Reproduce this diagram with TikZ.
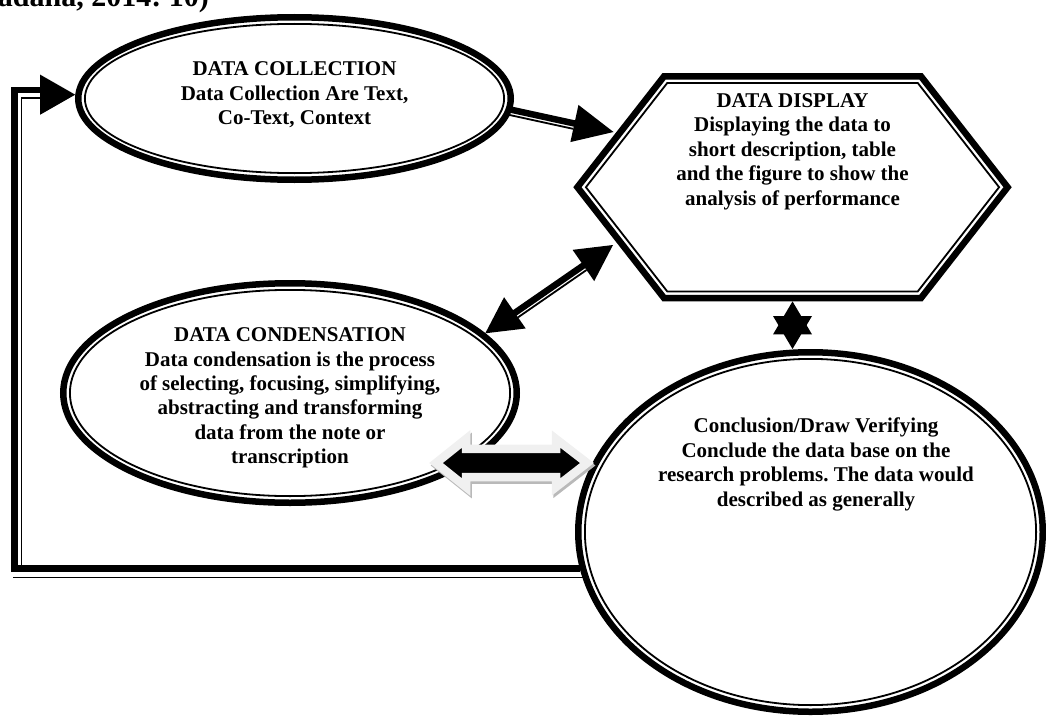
\documentclass[tikz,border=0pt]{standalone}
\usepackage{fontspec}
\setmainfont{Liberation Serif}
\usetikzlibrary{calc,shapes.geometric}
\pgfdeclarelayer{background}
\pgfsetlayers{background,main}
\frenchspacing
\newcommand{\myhead}[4]{%
  \coordinate (hb) at ($(#1)!#3!(#2)$);
  \fill (#1) -- ($(hb)!#4!90:(#1)$) -- ($(hb)!#4!-90:(#1)$) -- cycle;}
\begin{document}
\begin{tikzpicture}[x=1pt,y=-1pt,
  thickln/.style={line width=6.5pt},
  thinln/.style={line width=1.8pt},
  shapeell/.style={ellipse, draw, fill=white, thickln, inner sep=0pt},
  txt/.style={font=\bfseries\fontsize{21}{24.4}\selectfont, align=center, inner sep=0pt, anchor=north},
  hollow/.style={draw=gray!12, line width=8.5pt, fill=black, line join=miter},
  hshadow/.style={draw=gray!55, line width=8.5pt, line join=miter}]
\useasboundingbox (0,0) rectangle (1046,717);

% title (clipped at top, as in the reference)
\node[font=\bfseries\fontsize{30}{32}\selectfont, anchor=base east, inner sep=0pt] (title) at (209,7) {adana, 2014: 10)};

% shapes
\node[shapeell, minimum width=432.5pt, minimum height=162.5pt] (dc) at (294.5,98.5) {};
\draw[thinln] (dc.center) ellipse [x radius=209.6pt, y radius=74.6pt];
\node[txt] (dctext) at (294.5,61.5) {DATA COLLECTION\\Data Collection Are Text,\\Co-Text, Context};

\node[shapeell, minimum width=453.5pt, minimum height=219.5pt] (cond) at (290,393) {};
\draw[thinln] (cond.center) ellipse [x radius=220.1pt, y radius=103.1pt];
\node[txt] (condtext) at (290,327.5) {DATA CONDENSATION\\Data condensation is the process\\of selecting, focusing, simplifying,\\abstracting and transforming\\data from the note or\\transcription};

\node[shapeell, minimum width=464.5pt, minimum height=359.5pt] (conc) at (810.5,532) {};
\draw[thinln] (conc.center) ellipse [x radius=225.6pt, y radius=173.1pt];
\node[txt] (conctext) at (816,418) {Conclusion/Draw Verifying\\Conclude the data base on the\\research problems. The data would\\described as generally};

\node[inner sep=0pt, minimum width=438pt, minimum height=228pt] (disp) at (792.5,187.2) {};
\begin{scope}[shift={(disp.center)}]
\draw[thickln, fill=white, line join=miter] (-128.4,-110.95) -- (128.4,-110.95) -- (215.1,0) -- (128.4,110.95) -- (-128.4,110.95) -- (-215.1,0) -- cycle;
\draw[thinln, line join=miter] (-125.2,-104.3) -- (125.2,-104.3) -- (206.6,0) -- (125.2,104.3) -- (-125.2,104.3) -- (-206.6,0) -- cycle;
\end{scope}
\node[txt] (disptext) at (792.5,93.3) {DATA DISPLAY\\Displaying the data to\\short description, table\\and the figure to show the\\analysis of performance};

% connector end points
\coordinate (dispA) at (613.5,132);
\coordinate (dispB) at (613,245);
\coordinate (c1) at (dc.-3);
\coordinate (c2) at (cond.17);
\coordinate (fbTL) at (14.5,90);
\coordinate (fbH) at (42,90);
\coordinate (fbT) at (dc.179);
\coordinate (fbF) at (fbTL |- fbT);

\begin{pgfonlayer}{background}
% data collection -> data display
\coordinate (c1s) at ($(c1)!-0.1!(dispA)$);
\draw[thickln, shorten >=38pt] (c1s) -- (dispA);
\draw[thinln, shorten >=40pt] ($(c1s)!5.5pt!-90:(dispA)$) -- ($(dispA)!5.5pt!90:(c1s)$);
\myhead{dispA}{c1s}{40pt}{19pt}
% data display <-> data condensation
\draw[thickln, shorten >=34pt, shorten <=34pt] (c2) -- (dispB);
\draw[thinln, shorten >=36pt, shorten <=36pt] ($(c2)!5.5pt!-90:(dispB)$) -- ($(dispB)!5.5pt!90:(c2)$);
\myhead{dispB}{c2}{36pt}{19pt}
\myhead{c2}{dispB}{36pt}{19pt}
% feedback: conclusion -> data collection
\draw[thickln, line join=miter] (conc.189) -| (fbTL) -- (fbH);
\draw[thinln] (42,98) -- (21.5,98) -- (21.5,565.3);
\draw[thinln] (13,577.5) -- (620,577.5);
\myhead{fbT}{fbF}{35pt}{20pt}
\end{pgfonlayer}

% display <-> conclusion (star)
\coordinate (starB) at (disp.south |- conc.north);
\fill (disp.south) -- ++(-19.5,33) -- ++(39,0) -- cycle;
\fill (starB) -- ++(-19.5,-33) -- ++(39,0) -- cycle;

% condensation <-> conclusion (block double arrow)
\coordinate (harr) at (511.5,463);
\begin{scope}[shift={(harr)}]
\draw[hshadow, shift={(1.5,2.5)}] (-75.5,0) -- (-45.5,-24) -- (-45.5,-14.2) -- (44.5,-14.2) -- (44.5,-24) -- (75.5,0) -- (44.5,24) -- (44.5,14.2) -- (-45.5,14.2) -- (-45.5,24) -- cycle;
\draw[hollow] (-75.5,0) -- (-45.5,-24) -- (-45.5,-14.2) -- (44.5,-14.2) -- (44.5,-24) -- (75.5,0) -- (44.5,24) -- (44.5,14.2) -- (-45.5,14.2) -- (-45.5,24) -- cycle;
\end{scope}
\end{tikzpicture}
\end{document}
